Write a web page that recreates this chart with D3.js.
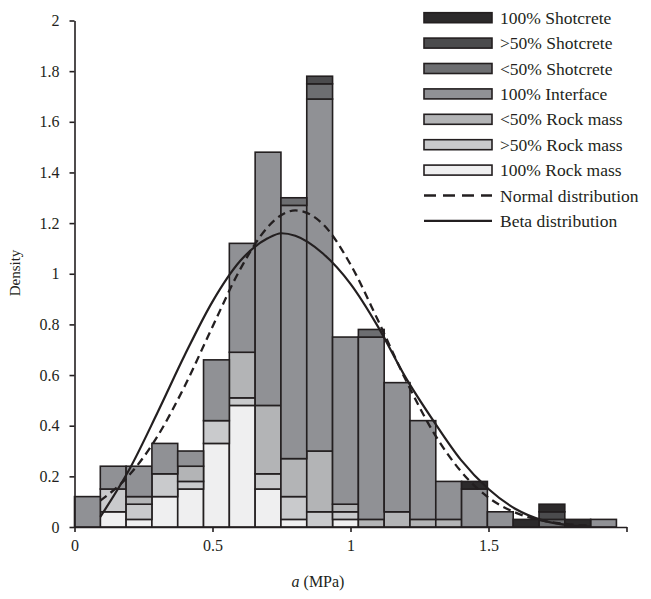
<!DOCTYPE html>
<html>
<head>
<meta charset="utf-8">
<script src="https://cdn.jsdelivr.net/npm/d3@7"></script>
<style>
  html, body { margin: 0; padding: 0; background: #fff; }
  svg { display: block; font-family: "Liberation Serif", "Times New Roman", serif; }
</style>
</head>
<body>
<svg id="chart" width="651" height="599"></svg>
<script>
// Histogram bin edges of the cohesion a (MPa)
const binEdges = [0, 0.0935, 0.187, 0.2805, 0.374, 0.4675, 0.561, 0.6545, 0.748, 0.8415,
  0.935, 1.0285, 1.122, 1.2155, 1.309, 1.4025, 1.496, 1.5895, 1.683, 1.7765, 1.87, 1.9635];

// Density contribution of each failure-surface class per bin (stacked bottom to top)
const rockMass100   = [0, 0.06, 0.03, 0.12, 0.15, 0.33, 0.48, 0.15, 0.03, 0, 0.03, 0, 0, 0, 0, 0, 0, 0, 0, 0, 0];
const rockMassOver50  = [0, 0.09, 0.06, 0.09, 0.03, 0.09, 0.03, 0.06, 0.09, 0.06, 0.03, 0, 0, 0, 0, 0, 0, 0, 0, 0, 0];
const rockMassUnder50 = [0, 0, 0.03, 0, 0.06, 0, 0.18, 0.27, 0.15, 0.24, 0.03, 0.03, 0.06, 0.03, 0.03, 0, 0, 0, 0, 0, 0];
const interface100  = [0.12, 0.09, 0.12, 0.12, 0.06, 0.24, 0.43, 1.00, 1.00, 1.39, 0.66, 0.72, 0.51, 0.39, 0.15, 0.15, 0.06, 0, 0, 0, 0.03];
const shotcreteUnder50 = [0, 0, 0, 0, 0, 0, 0, 0, 0.03, 0.06, 0, 0.03, 0, 0, 0, 0, 0, 0, 0.03, 0, 0];
const shotcreteOver50  = [0, 0, 0, 0, 0, 0, 0, 0, 0, 0.03, 0, 0, 0, 0, 0, 0, 0, 0, 0.03, 0, 0];
const shotcrete100  = [0, 0, 0, 0, 0, 0, 0, 0, 0, 0, 0, 0, 0, 0, 0, 0.03, 0, 0.03, 0.03, 0.03, 0];

const seriesNames = ["100% Rock mass", ">50% Rock mass", "<50% Rock mass", "100% Interface",
  "<50% Shotcrete", ">50% Shotcrete", "100% Shotcrete"];
const seriesValues = [rockMass100, rockMassOver50, rockMassUnder50, interface100,
  shotcreteUnder50, shotcreteOver50, shotcrete100];
const seriesColors = ["#efeff0", "#c9cacc", "#b3b4b6", "#909195", "#6d6e71", "#4b4b4d", "#2c2a2b"];

// Fitted density curves
const curveX     = [0.0935, 0.2, 0.3, 0.4, 0.5, 0.6, 0.7, 0.75, 0.8, 0.9, 1.0, 1.1, 1.2, 1.3, 1.4, 1.5, 1.6, 1.7, 1.8, 1.87];
const normalPdf  = [0.104, 0.207, 0.357, 0.558, 0.791, 1.017, 1.184, 1.232, 1.25, 1.196, 1.037, 0.815, 0.581, 0.375, 0.220, 0.116, 0.056, 0.024, 0.010, 0.005];
const betaPdf    = [0.04, 0.23, 0.45, 0.68, 0.89, 1.05, 1.14, 1.16, 1.15, 1.08, 0.96, 0.79, 0.59, 0.42, 0.265, 0.15, 0.07, 0.025, 0.006, 0.002];

// Axis ticks
const xTicks = [0, 0.5, 1, 1.5, 2];
const xTickLabels = ["0", "0.5", "1", "1.5", ""];
const yTicks = [0, 0.2, 0.4, 0.6, 0.8, 1, 1.2, 1.4, 1.6, 1.8, 2];
const yTickLabels = ["0", "0.2", "0.4", "0.6", "0.8", "1", "1.2", "1.4", "1.6", "1.8", "2"];

const ink = "#231f20";
const svg = d3.select("#chart");

const x = d3.scaleLinear().domain([0, 2]).range([74.5, 626.5]);
const y = d3.scaleLinear().domain([0, 2]).range([527, 20.5]);

// Stacked bars
const keys = seriesNames;
const rows = binEdges.slice(0, -1).map((e, i) => {
  const r = { i };
  keys.forEach((k, j) => { r[k] = seriesValues[j][i]; });
  return r;
});
const stacked = d3.stack().keys(keys)(rows);

const barGroup = svg.append("g");
stacked.forEach((layer, j) => {
  barGroup.append("g")
    .attr("fill", seriesColors[j])
    .selectAll("rect")
    .data(layer.filter(d => d[1] - d[0] > 1e-9))
    .join("rect")
      .attr("x", d => x(binEdges[d.data.i]))
      .attr("width", d => x(binEdges[d.data.i + 1]) - x(binEdges[d.data.i]))
      .attr("y", d => y(d[1]))
      .attr("height", d => y(d[0]) - y(d[1]))
      .attr("stroke", ink)
      .attr("stroke-width", 1.6);
});

// Distribution curves
const line = d3.line().x(d => x(d[0])).y(d => y(d[1])).curve(d3.curveMonotoneX);
svg.append("path")
  .datum(curveX.map((v, i) => [v, normalPdf[i]]))
  .attr("d", line)
  .attr("fill", "none")
  .attr("stroke", ink)
  .attr("stroke-width", 2.3)
  .attr("stroke-dasharray", "8,5");
svg.append("path")
  .datum(curveX.map((v, i) => [v, betaPdf[i]]))
  .attr("d", line)
  .attr("fill", "none")
  .attr("stroke", ink)
  .attr("stroke-width", 2.2);

// Axes
const xAxis = d3.axisBottom(x).tickValues(xTicks)
  .tickFormat((d, i) => xTickLabels[i]).tickSize(5).tickPadding(8).tickSizeOuter(0);
const gx = svg.append("g").attr("transform", `translate(0,${y(0)})`).call(xAxis);
const yAxis = d3.axisLeft(y).tickValues(yTicks)
  .tickFormat((d, i) => yTickLabels[i]).tickSize(5).tickPadding(10).tickSizeOuter(0);
const gy = svg.append("g").attr("transform", `translate(${x(0)},0)`).call(yAxis);

[gx, gy].forEach(g => {
  g.select(".domain").attr("stroke", ink).attr("stroke-width", 1.6);
  g.selectAll(".tick line").attr("stroke", ink).attr("stroke-width", 1.6);
  g.selectAll(".tick text").attr("fill", ink)
    .style("font-family", "'Liberation Serif', 'Times New Roman', serif")
    .style("font-size", "16px");
});

// Axis titles
const xTitle = svg.append("text")
  .attr("x", 318).attr("y", 587)
  .attr("text-anchor", "middle")
  .attr("fill", ink)
  .style("font-size", "16px");
xTitle.append("tspan").attr("font-style", "italic").text("a");
xTitle.append("tspan").text(" (MPa)");

svg.append("text")
  .attr("transform", "translate(20,273) rotate(-90)")
  .attr("text-anchor", "middle")
  .attr("fill", ink)
  .style("font-size", "15px")
  .text("Density");

// Legend (top entry is the top of the stack)
const legend = svg.append("g").attr("transform", "translate(424,0)");
const legendRows = seriesNames.map((n, j) => ({ name: n, color: seriesColors[j] })).reverse();
const rowY = k => 17.7 + 25.4 * k;
legendRows.forEach((r, k) => {
  legend.append("rect")
    .attr("x", 0).attr("y", rowY(k) - 5)
    .attr("width", 68).attr("height", 10)
    .attr("fill", r.color)
    .attr("stroke", ink).attr("stroke-width", 1.6);
  legend.append("text")
    .attr("x", 76).attr("y", rowY(k))
    .attr("dy", "0.35em")
    .attr("fill", ink)
    .style("font-size", "17.5px")
    .text(r.name);
});
const lineEntries = [
  { name: "Normal distribution", dash: "12,7" },
  { name: "Beta distribution", dash: null }
];
lineEntries.forEach((e, m) => {
  const k = legendRows.length + m;
  legend.append("line")
    .attr("x1", 0).attr("x2", 68)
    .attr("y1", rowY(k)).attr("y2", rowY(k))
    .attr("stroke", ink).attr("stroke-width", 2.3)
    .attr("stroke-dasharray", e.dash);
  legend.append("text")
    .attr("x", 76).attr("y", rowY(k))
    .attr("dy", "0.35em")
    .attr("fill", ink)
    .style("font-size", "17.5px")
    .text(e.name);
});
</script>
</body>
</html>
